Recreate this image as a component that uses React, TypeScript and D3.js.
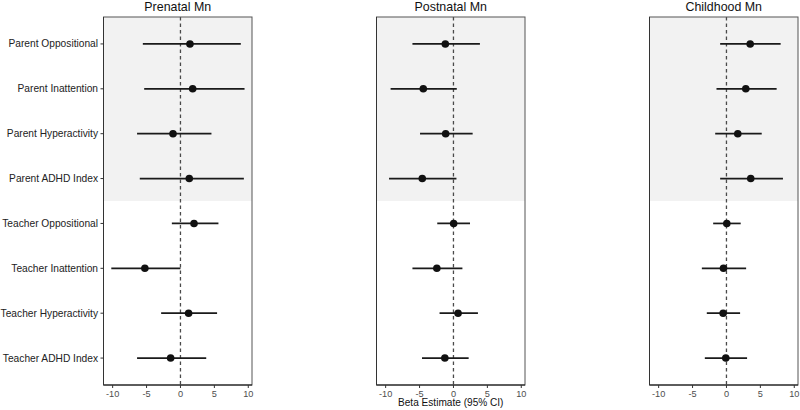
import React from "react";
import * as d3 from "d3";

const outcomes = [
  "Parent Oppositional",
  "Parent Inattention",
  "Parent Hyperactivity",
  "Parent ADHD Index",
  "Teacher Oppositional",
  "Teacher Inattention",
  "Teacher Hyperactivity",
  "Teacher ADHD Index",
];

const panelTitles = ["Prenatal Mn", "Postnatal Mn", "Childhood Mn"];

const prenatalEst = [1.4, 1.8, -1.1, 1.3, 2.0, -5.25, 1.2, -1.45];
const prenatalLo = [-5.55, -5.35, -6.4, -6.0, -1.27, -10.2, -2.85, -6.4];
const prenatalHi = [8.9, 9.45, 4.57, 9.35, 5.6, 0.0, 5.4, 3.8];

const postnatalEst = [-1.2, -4.45, -1.15, -4.6, 0.03, -2.45, 0.68, -1.27];
const postnatalLo = [-6.05, -9.27, -4.93, -9.5, -2.39, -6.05, -2.05, -4.64];
const postnatalHi = [3.9, 0.49, 2.83, 0.44, 2.44, 1.32, 3.61, 2.24];

const childhoodEst = [3.5, 2.85, 1.67, 3.58, 0.05, -0.44, -0.49, -0.1];
const childhoodLo = [-0.93, -1.47, -1.66, -0.93, -1.96, -3.63, -2.9, -3.19];
const childhoodHi = [7.99, 7.4, 5.2, 8.33, 2.1, 2.9, 2.01, 3.04];

const xTicks = [-10, -5, 0, 5, 10];
const xDomain: [number, number] = [-11.35, 10.55];
const xLabel = "Beta Estimate (95% CI)";

const panels = [
  { title: panelTitles[0], est: prenatalEst, lo: prenatalLo, hi: prenatalHi },
  { title: panelTitles[1], est: postnatalEst, lo: postnatalLo, hi: postnatalHi },
  { title: panelTitles[2], est: childhoodEst, lo: childhoodLo, hi: childhoodHi },
];

const W = 800;
const H = 410;
const panelLefts = [103.5, 376.5, 649.5];
const panelW = 148.5;
const top = 17;
const bottom = 385;
const font = "'Liberation Sans', Arial, sans-serif";

export default function App() {
  const y = d3.scalePoint<string>().domain(outcomes).range([top, bottom]).padding(0.6);
  const step = y.step();
  const shadeBottom = (y(outcomes[3]) as number) + step / 2;

  return (
    <svg
      width={W}
      height={H}
      style={{ position: "absolute", left: 0, top: 0, background: "#fff" }}
      fontFamily={font}
    >
      <rect x={0} y={0} width={W} height={H} fill="#fff" />
      {panels.map((p, pi) => {
        const left = panelLefts[pi];
        const x = d3.scaleLinear().domain(xDomain).range([left, left + panelW]);
        return (
          <g key={p.title}>
            <rect x={left} y={top} width={panelW} height={shadeBottom - top} fill="#f2f2f2" />
            <line
              x1={x(0)}
              x2={x(0)}
              y1={top}
              y2={bottom}
              stroke="#4a4a4a"
              strokeWidth={1.3}
              strokeDasharray="3.5,3"
            />
            {outcomes.map((o, i) => {
              const yy = y(o) as number;
              return (
                <g key={o}>
                  <line x1={x(p.lo[i])} x2={x(p.hi[i])} y1={yy} y2={yy} stroke="#1a1a1a" strokeWidth={1.7} />
                  <circle cx={x(p.est[i])} cy={yy} r={3.8} fill="#111" />
                </g>
              );
            })}
            <rect
              x={left}
              y={top}
              width={panelW}
              height={bottom - top}
              fill="none"
              stroke="#555"
              strokeWidth={1}
            />
            <line x1={left} x2={left + panelW} y1={bottom} y2={bottom} stroke="#111" strokeWidth={1} />
            <line x1={left} x2={left} y1={top} y2={bottom} stroke="#333" strokeWidth={1} />
            {xTicks.map((t) => (
              <g key={t}>
                <line x1={x(t)} x2={x(t)} y1={bottom} y2={bottom + 3} stroke="#333" strokeWidth={1} />
                <text
                  x={x(t)}
                  y={396.5}
                  fontSize={9.2}
                  textAnchor="middle"
                  fill="#4d4d4d"
                >
                  {t < 0 ? "-" + Math.abs(t) : String(t)}
                </text>
              </g>
            ))}
            <text
              x={left + panelW / 2}
              y={11}
              fontSize={12.4}
              textAnchor="middle"
              fill="#111"
            >
              {p.title}
            </text>
            {pi === 0 &&
              outcomes.map((o) => {
                const yy = y(o) as number;
                return (
                  <g key={o}>
                    <line x1={left - 3} x2={left} y1={yy} y2={yy} stroke="#333" strokeWidth={1} />
                    <text
                      x={left - 5.5}
                      y={yy}
                      dy="0.35em"
                      fontSize={10.2}
                      textAnchor="end"
                      fill="#222"
                    >
                      {o}
                    </text>
                  </g>
                );
              })}
          </g>
        );
      })}
      <text
        x={panelLefts[1] + panelW / 2}
        y={406}
        fontSize={10.1}
        textAnchor="middle"
        fill="#111"
      >
        {xLabel}
      </text>
    </svg>
  );
}
